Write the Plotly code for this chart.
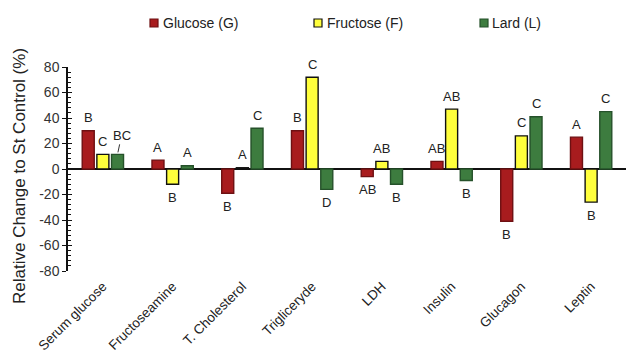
import plotly.graph_objects as go

# Parameters and group values (% change relative to St control)
categories = ["Serum glucose", "Fructoseamine", "T. Cholesterol", "Trigliceryde",
              "LDH", "Insulin", "Glucagon", "Leptin"]
glucose = [30, 7, -19, 30, -6, 6, -41, 25]
fructose = [11.5, -12, 1, 72, 6, 47, 26, -26]
lard = [11.5, 2.5, 32, -16, -12, -9, 41, 45]

glucose_letters = ["B", "A", "B", "B", "AB", "AB", "B", "A"]
fructose_letters = ["C", "B", "A", "C", "AB", "AB", "C", "B"]
lard_letters = ["BC", "A", "C", "D", "B", "B", "C", "C"]

y_ticks = [-80, -60, -40, -20, 0, 20, 40, 60, 80]
y_tick_text = ["-80", "-60", "-40", "-20", "0", "20", "40", "60", "80"]

series = [
    ("Glucose (G)", glucose, glucose_letters, "#A81C1E", "#6E1012"),
    ("Fructose (F)", fructose, fructose_letters, "#FFFF3C", "#111111"),
    ("Lard (L)", lard, lard_letters, "#3D7C3F", "#25512A"),
]

W, H = 626, 353
ML, MR, MT, MB = 68, 0, 67, 82
PW, PH = W - ML - MR, H - MT - MB
FONT = "Liberation Sans, Arial"

fig = go.Figure()
for name, vals, _, fill, edge in series:
    fig.add_trace(go.Bar(
        x=categories, y=vals, name=name,
        marker=dict(color=fill, line=dict(color=edge, width=1.4)),
        showlegend=False,
    ))

# significance letters above/below each bar
slot = PW / len(categories) * 0.63 / 3
annotations = []
for i, (name, vals, letters, _, _) in enumerate(series):
    dx = (i - 1) * slot
    for cat, v, lab in zip(categories, vals, letters):
        if lab == "BC" and cat == "Serum glucose":
            annotations.append(dict(
                x=cat, y=v, xref="x", yref="y", text=lab, xshift=dx,
                showarrow=True, arrowhead=0, arrowwidth=1, arrowcolor="#333333",
                ax=4, ay=-19, standoff=2,
                font=dict(family=FONT, size=13, color="#222222"),
            ))
            continue
        annotations.append(dict(
            x=cat, y=v, xref="x", yref="y", text=lab, showarrow=False,
            xshift=dx, yshift=13 if v >= 0 else -13, yanchor="middle",
            font=dict(family=FONT, size=13, color="#222222"),
        ))

# legend drawn along the top
def px_x(px):
    return (px - ML) / PW

def px_y(py):
    return (H - MB - py) / PH

shapes = []
legend_pos = [(150, 161), (314, 325), (480, 490)]
for (sq, tx), (name, _, _, fill, edge) in zip(legend_pos, series):
    shapes.append(dict(type="rect", xref="paper", yref="paper",
                       x0=px_x(sq), x1=px_x(sq + 8), y0=px_y(27), y1=px_y(19),
                       fillcolor=fill, line=dict(color=edge, width=1.2)))
    annotations.append(dict(
        x=px_x(tx), y=px_y(23), xref="paper", yref="paper", text=name,
        showarrow=False, xanchor="left", yanchor="middle",
        font=dict(family=FONT, size=14, color="#222222"),
    ))

# y-axis title
annotations.append(dict(
    x=px_x(19), y=px_y(176), xref="paper", yref="paper",
    text="Relative Change to St Control (%)", textangle=-90, showarrow=False,
    xanchor="center", yanchor="middle",
    font=dict(family=FONT, size=17, color="#222222"),
))

fig.update_layout(
    width=W, height=H,
    margin=dict(l=ML, r=MR, t=MT, b=MB, autoexpand=False),
    paper_bgcolor="white", plot_bgcolor="white",
    barmode="group", bargap=0.37, bargroupgap=0.18,
    xaxis=dict(
        type="category", range=[-0.5, 7.5], showgrid=False, showline=False,
        ticks="", tickangle=-45, ticklabelstandoff=4, automargin=False,
        tickfont=dict(family=FONT, size=13.5, color="#222222"),
    ),
    yaxis=dict(
        range=[-80, 80], tickmode="array", tickvals=y_ticks, ticktext=y_tick_text,
        showgrid=False, automargin=False,
        showline=True, linecolor="#111111", linewidth=1.5,
        ticks="outside", ticklen=4, tickwidth=1.3, tickcolor="#111111",
        zeroline=True, zerolinecolor="#111111", zerolinewidth=1.5,
        tickfont=dict(family=FONT, size=14, color="#333333"),
    ),
    yaxis2=dict(
        range=[-80, 80], overlaying="y", side="left", anchor="x",
        showgrid=False, zeroline=False, showline=False, showticklabels=False,
        automargin=False,
        tickmode="linear", tick0=0, dtick=20,
        ticks="inside", ticklen=4, tickwidth=1.3, tickcolor="#111111",
        minor=dict(tickmode="linear", tick0=0, dtick=4, ticks="inside",
                   ticklen=3, tickwidth=1, tickcolor="#111111", showgrid=False),
    ),
    shapes=shapes,
    annotations=annotations,
)

# invisible trace so the inner tick axis is drawn
fig.add_trace(go.Scatter(x=[categories[0]], y=[0], yaxis="y2", mode="markers",
                         marker=dict(opacity=0), showlegend=False, hoverinfo="skip"))

fig.write_html("out.html")
